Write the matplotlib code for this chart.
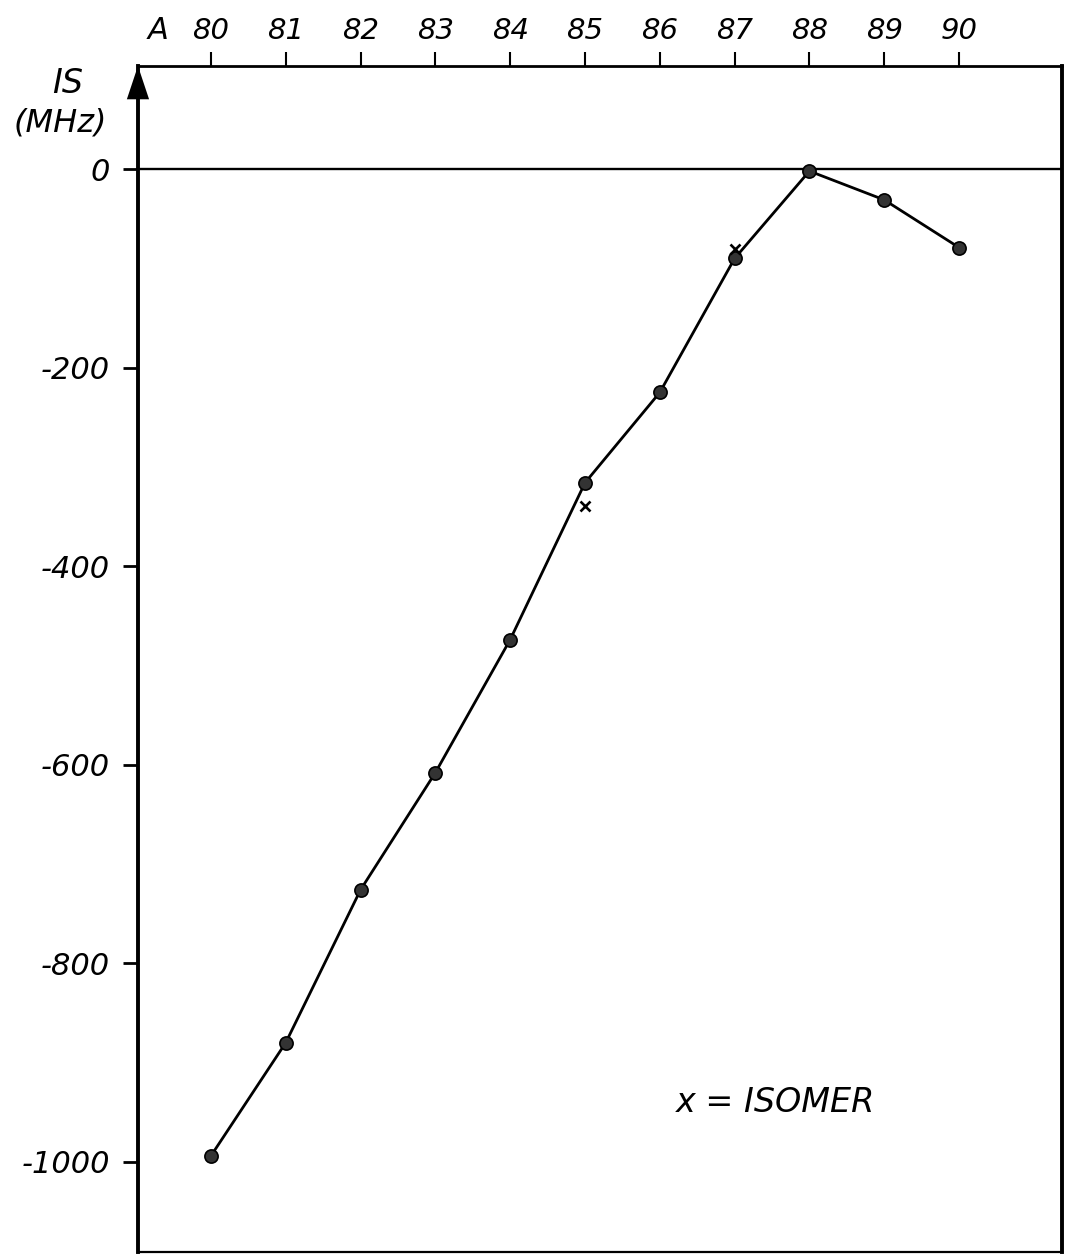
import numpy as np
import matplotlib
matplotlib.use("Agg")
import matplotlib.pyplot as plt
from matplotlib import transforms

plt.rcParams['font.family'] = 'DejaVu Sans'
plt.rcParams['font.style'] = 'italic'
plt.rcParams['axes.unicode_minus'] = False

# Massenzahl A und Isotopieverschiebung IS (MHz)
mass = [80, 81, 82, 83, 84, 85, 86, 87, 88, 89, 90]
shift = [-994, -880, -726, -608, -474, -316, -225, -90, -2, -31, -79]

# Isomere
iso_mass = [85, 87]
iso_shift = [-339, -80]

x_ticks = list(range(80, 91))
y_ticks = [0, -200, -400, -600, -800, -1000]
y_labels = ["0", "-200", "-400", "-600", "-800", "-1000"]


def run():
    fig = plt.figure(figsize=(10.72, 12.54), dpi=100)
    ax = fig.add_axes([0.1287, 0.0016, 0.862, 0.9458])

    ax.set_xlim(79.024, 91.377)
    ax.set_ylim(-1090.9, 103.9)

    # Nulllinie
    ax.axhline(0, color='k', lw=1.7, zorder=1)

    # Messkurve
    ax.plot(mass, shift, '-', color='k', lw=2.0, zorder=2)
    ax.plot(mass, shift, 'o', ms=9.5, mfc='#333333', mec='k', mew=1.2, zorder=3)
    ax.plot(iso_mass, iso_shift, 'x', ms=6.5, color='k', mew=1.9, zorder=3)

    # Rahmen
    for side in ['left', 'right']:
        ax.spines[side].set_linewidth(2.8)
    ax.spines['top'].set_linewidth(2.0)
    ax.spines['bottom'].set_linewidth(1.6)

    ax.xaxis.tick_top()
    ax.set_xticks(x_ticks)
    ax.set_xticklabels([str(a) for a in x_ticks], fontsize=21)
    ax.tick_params(axis='x', direction='out', length=10, width=1.5, pad=5)

    ax.set_yticks(y_ticks)
    ax.set_yticklabels(y_labels, fontsize=22)
    ax.tick_params(axis='y', direction='out', length=11, width=2.0, pad=9)
    ax.tick_params(right=False, bottom=False)

    # Pfeil an der Ordinate
    ax.annotate('', xy=(0, 1.0), xytext=(0, 0.96), xycoords='axes fraction',
                arrowprops=dict(arrowstyle='-|>,head_length=2.4,head_width=0.8',
                                color='k', lw=0, shrinkA=0, shrinkB=0),
                annotation_clip=False)

    trans = transforms.blended_transform_factory(ax.transData, ax.transAxes)
    ax.annotate('A', xy=(79.29, 1.0), xycoords=trans, xytext=(0, 15),
                textcoords='offset points', ha='center', va='bottom', fontsize=22)

    ax.text(78.09, 86.7, 'IS', ha='center', va='center', fontsize=24)
    ax.text(77.99, 46.4, '(MHz)', ha='center', va='center', fontsize=23)

    ax.text(87.55, -940.8, 'x = ISOMER', ha='center', va='center', fontsize=24)

    fig.savefig('out.png', dpi=100)


if __name__ == "__main__":
    run()
